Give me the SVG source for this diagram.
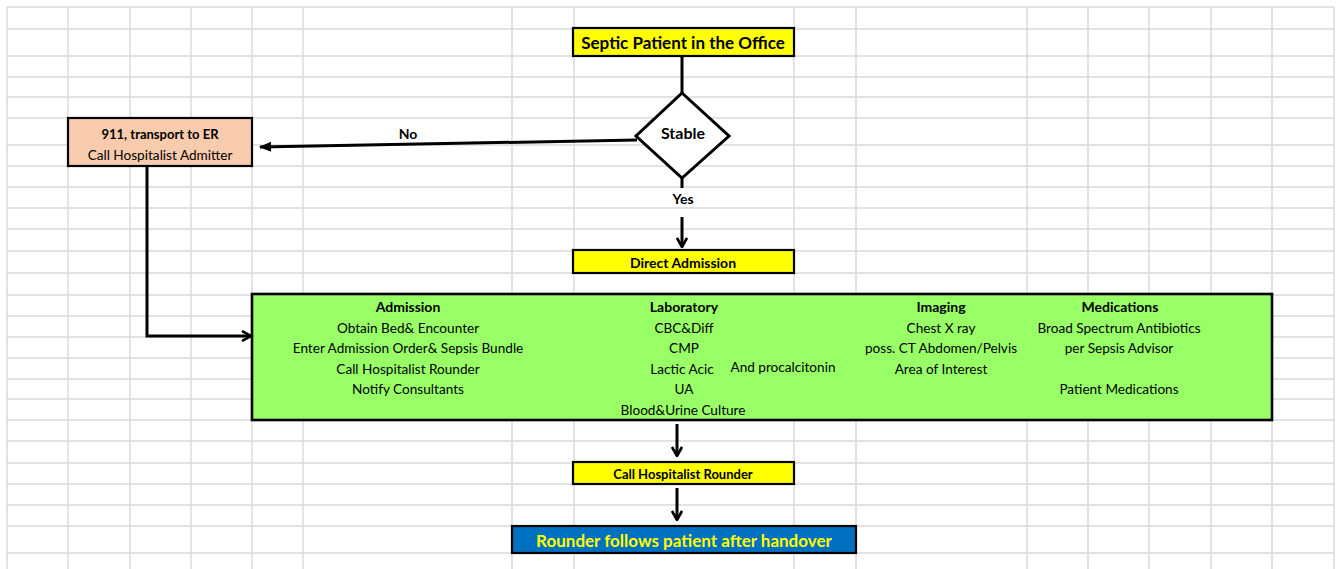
<svg xmlns="http://www.w3.org/2000/svg" width="1338" height="569" viewBox="0 0 1338 569">
<style>
.grid{stroke:#d9d9d9;stroke-width:1.4;fill:none}
.box{stroke:#000;stroke-width:2.2}
.conn{stroke:#000;stroke-width:3;fill:none}
text{font-family:Lato,"Liberation Sans",sans-serif;fill:#000;text-anchor:middle}
.b{font-weight:bold}
.t{font-size:14px}
.r{font-size:13.6px}
</style>
<defs>
<marker id="chev" viewBox="0 0 12 12" refX="11" refY="6" markerWidth="12" markerHeight="12" markerUnits="userSpaceOnUse" orient="auto">
<path d="M2,1 L11,6 L2,11" fill="none" stroke="#000" stroke-width="2.6"/>
</marker>
<marker id="tri" viewBox="0 0 12 10" refX="11" refY="5" markerWidth="14" markerHeight="10" markerUnits="userSpaceOnUse" orient="auto">
<path d="M0,0 L12,5 L0,10 Z" fill="#000"/>
</marker>
</defs>
<rect width="1338" height="569" fill="#fff"/>
<g id="grid" class="grid">
<path d="M7,7V569M68,7V569M130,7V569M191,7V569M252,7V569M303,7V569M512,7V569M574,7V569M794,7V569M856,7V569M1027,7V569M1088,7V569M1149,7V569M1211,7V569M1272,7V569M1334,7V569"/>
<path d="M7,7H1334M7,29H1334M7,56H1334M7,77H1334M7,97H1334M7,118H1334M7,145H1334M7,166H1334M7,187H1334M7,208H1334M7,229H1334M7,251H1334M7,273H1334M7,295H1334M7,316H1334M7,337H1334M7,358H1334M7,379H1334M7,399H1334M7,420H1334M7,441H1334M7,463H1334M7,484H1334M7,505H1334M7,526H1334M7,553H1334"/>
</g>
<g id="connectors">
<path class="conn" d="M682,56V93"/>
<path class="conn" d="M682,178V188"/>
<path class="conn" d="M682,217V247" marker-end="url(#chev)"/>
<path class="conn" d="M637,140L260,147" marker-end="url(#tri)"/>
<path class="conn" d="M147,166V336H251" marker-end="url(#chev)"/>
<path class="conn" d="M677,424V456" marker-end="url(#chev)"/>
<path class="conn" d="M677,488V520" marker-end="url(#chev)"/>
<text class="b t" x="408" y="139">No</text>
<text class="b t" x="683" y="204">Yes</text>
</g>
<g id="start">
<rect class="box" x="573" y="28" width="221" height="28" fill="#ffff00"/>
<text class="b" x="683" y="49" font-size="17">Septic Patient in the Office</text>
</g>
<g id="stable">
<path d="M682,93L729,136L682,178L636,136Z" fill="#fff" stroke="#000" stroke-width="3"/>
<text class="b" x="683" y="139" font-size="16">Stable</text>
</g>
<g id="er">
<rect class="box" x="68" y="118" width="184" height="48" fill="#f8cbad"/>
<text class="b" x="160" y="139" font-size="13">911, transport to ER</text>
<text class="r" x="160" y="160">Call Hospitalist Admitter</text>
</g>
<g id="direct">
<rect class="box" x="573" y="250" width="221" height="23" fill="#ffff00"/>
<text class="b t" x="683" y="268">Direct Admission</text>
</g>
<g id="tasks">
<rect x="252" y="294" width="1020" height="126" fill="#99ff66" stroke="#000" stroke-width="2.6"/>
<g class="r">
<text class="b t" x="408" y="312">Admission</text>
<text x="408" y="333">Obtain Bed&amp; Encounter</text>
<text x="408" y="353">Enter Admission Order&amp; Sepsis Bundle</text>
<text x="408" y="374">Call Hospitalist Rounder</text>
<text x="408" y="394">Notify Consultants</text>
<text class="b t" x="684" y="312">Laboratory</text>
<text x="684" y="333">CBC&amp;Diff</text>
<text x="684" y="353">CMP</text>
<text x="682" y="374">Lactic Acic</text>
<text x="684" y="394">UA</text>
<text x="683" y="415">Blood&amp;Urine Culture</text>
<text x="783" y="372">And procalcitonin</text>
<text class="b t" x="941" y="312">Imaging</text>
<text x="941" y="333">Chest X ray</text>
<text x="941" y="353">poss. CT Abdomen/Pelvis</text>
<text x="941" y="374">Area of Interest</text>
<text class="b t" x="1120" y="312">Medications</text>
<text x="1119" y="333">Broad Spectrum Antibiotics</text>
<text x="1119" y="353">per Sepsis Advisor</text>
<text x="1119" y="394">Patient Medications</text>
</g>
</g>
<g id="rounder">
<rect class="box" x="573" y="462" width="221" height="22" fill="#ffff00"/>
<text class="b" x="683" y="479" font-size="13">Call Hospitalist Rounder</text>
</g>
<g id="handover">
<rect class="box" x="512" y="526" width="344" height="27" fill="#0070c0"/>
<text class="b" x="684" y="547" font-size="17" style="fill:#ffff00">Rounder follows patient after handover</text>
</g>
</svg>
